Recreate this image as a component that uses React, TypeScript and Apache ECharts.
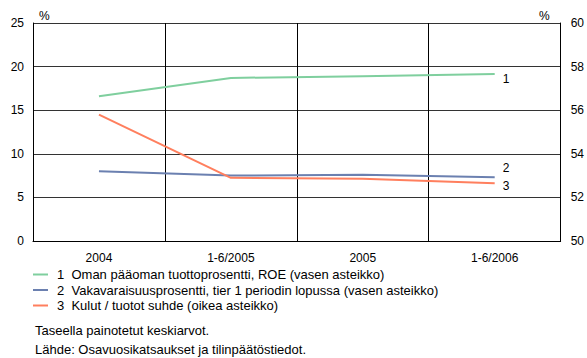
import React, { useEffect, useRef } from "react";
import * as echarts from "echarts";

const categories = ["2004", "1-6/2005", "2005", "1-6/2006"];
const roe = [16.6, 18.7, 18.9, 19.15];
const tier1 = [8.0, 7.5, 7.6, 7.3];
const costIncome = [55.8, 52.9, 52.85, 52.65];
const seriesNames = [
  "1  Oman pääoman tuottoprosentti, ROE (vasen asteikko)",
  "2  Vakavaraisuusprosentti, tier 1 periodin lopussa (vasen asteikko)",
  "3  Kulut / tuotot suhde (oikea asteikko)",
];
const endTags = ["1", "2", "3"];
const notes = ["Taseella painotetut keskiarvot.", "Lähde: Osavuosikatsaukset ja tilinpäätöstiedot."];

const FONT = "Liberation Sans, Arial, sans-serif";
const COLORS = ["#7fcf9e", "#6b80b0", "#ff7f5e"];

export default function App() {
  const ref = useRef<HTMLDivElement>(null);

  useEffect(() => {
    if (!ref.current) return;
    const chart = echarts.init(ref.current, null, { renderer: "svg" });
    const lineSeries = (idx: number, data: number[], yAxisIndex: number, offsetY: number) => ({
      name: seriesNames[idx],
      type: "line",
      yAxisIndex,
      data,
      symbol: "none",
      lineStyle: { color: COLORS[idx], width: 2 },
      itemStyle: { color: COLORS[idx] },
      endLabel: {
        show: true,
        formatter: endTags[idx],
        distance: 8,
        offset: [0, offsetY],
        color: "#000",
        fontSize: 12,
        fontFamily: FONT,
      },
      z: 3,
    });
    const noteText = (text: string, y: number) => ({
      type: "text",
      x: 35,
      y,
      style: { text, fontSize: 13, fill: "#000", fontFamily: FONT, verticalAlign: "middle" },
    });
    chart.setOption({
      animation: false,
      textStyle: { fontFamily: FONT },
      grid: { left: 33, right: 26, top: 23, bottom: 117, containLabel: false },
      legend: {
        orient: "vertical",
        left: 33,
        top: 267,
        padding: 0,
        itemWidth: 15,
        itemHeight: 2,
        itemGap: 0.5,
        icon: "rect",
        textStyle: { fontSize: 13, color: "#000", lineHeight: 15, padding: [0, 0, 0, 4], fontFamily: FONT },
        data: seriesNames.map((n, i) => ({ name: n, itemStyle: { color: COLORS[i] } })),
      },
      xAxis: {
        type: "category",
        data: categories,
        boundaryGap: true,
        axisLine: { show: true, lineStyle: { color: "#000", width: 1 } },
        axisTick: { show: false },
        splitLine: { show: true, lineStyle: { color: "#000", width: 1 } },
        axisLabel: { color: "#000", fontSize: 12, margin: 11, fontFamily: FONT },
      },
      yAxis: [
        {
          type: "value",
          min: 0,
          max: 25,
          interval: 5,
          axisLine: { show: true, lineStyle: { color: "#000", width: 1 } },
          axisTick: { show: false },
          splitLine: { show: true, lineStyle: { color: "#333", width: 1 } },
          axisLabel: { color: "#000", fontSize: 12, margin: 9, fontFamily: FONT },
        },
        {
          type: "value",
          min: 50,
          max: 60,
          interval: 2,
          position: "right",
          axisLine: { show: true, lineStyle: { color: "#000", width: 1 } },
          axisTick: { show: false },
          splitLine: { show: false },
          axisLabel: { color: "#000", fontSize: 12, margin: 10, fontFamily: FONT },
        },
      ],
      graphic: [
        { type: "text", x: 39, y: 16, style: { text: "%", fontSize: 12, fill: "#000", fontFamily: FONT, verticalAlign: "middle" } },
        { type: "text", x: 539, y: 16, style: { text: "%", fontSize: 12, fill: "#000", fontFamily: FONT, verticalAlign: "middle" } },
        noteText(notes[0], 330),
        noteText(notes[1], 349),
      ],
      series: [
        lineSeries(0, roe, 0, 4.5),
        lineSeries(1, tier1, 0, -9),
        lineSeries(2, costIncome, 1, 2.5),
      ],
    });
    return () => chart.dispose();
  }, []);

  return <div ref={ref} style={{ position: "absolute", left: 0, top: 0, width: 587, height: 358 }} />;
}
